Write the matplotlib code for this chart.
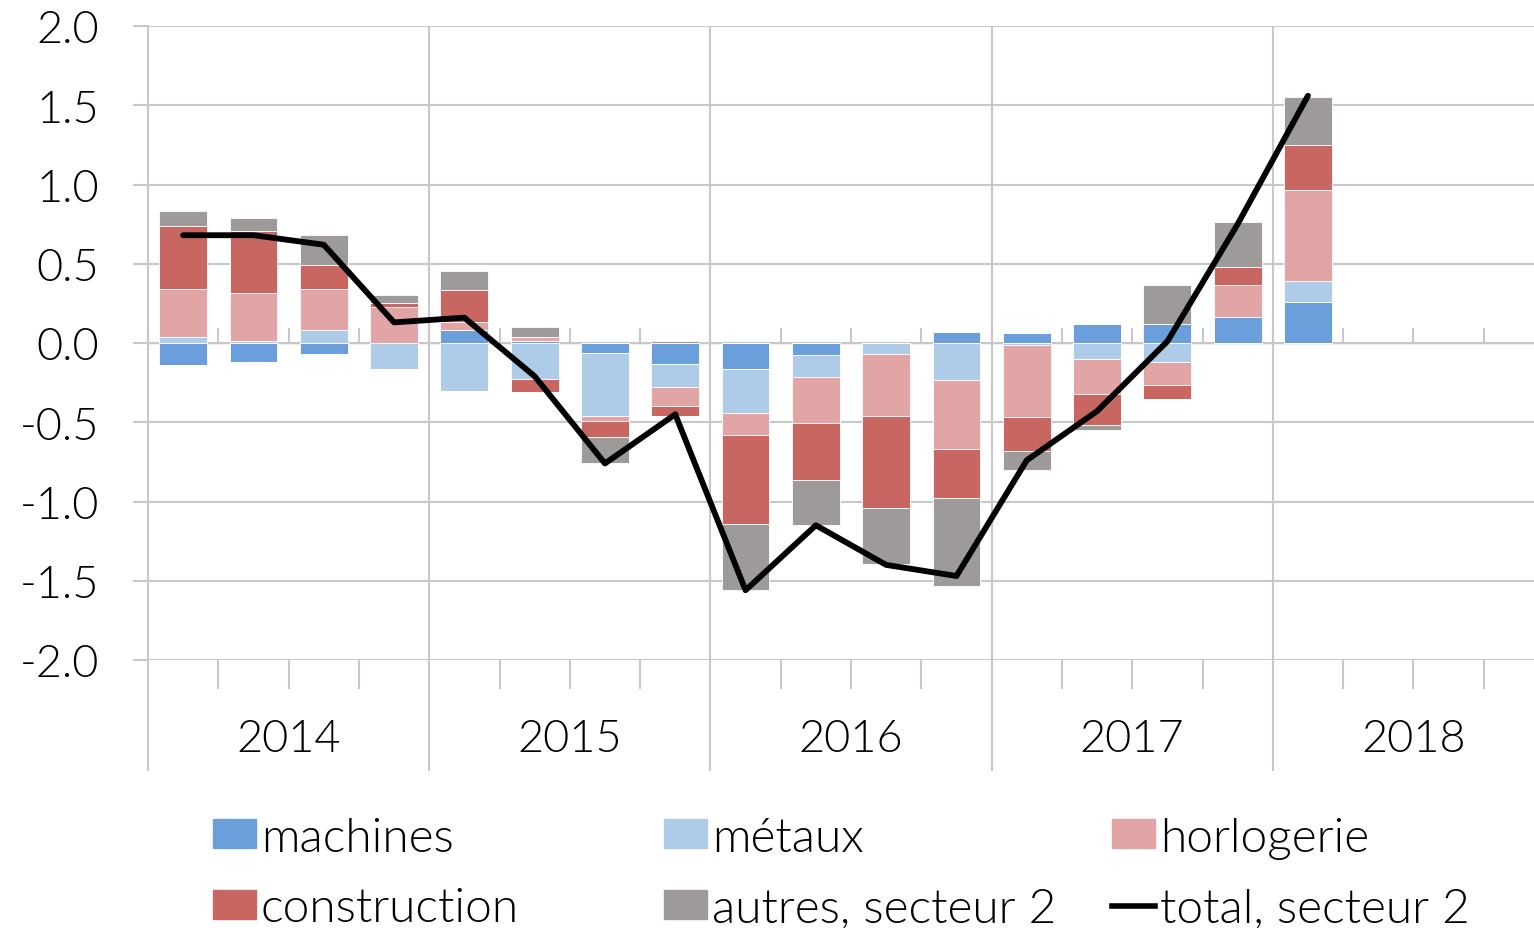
import matplotlib
matplotlib.use("Agg")
import matplotlib.pyplot as plt
import matplotlib.transforms as mtransforms
from matplotlib.patches import Patch
from matplotlib.lines import Line2D
from matplotlib.ticker import FixedLocator, FormatStrFormatter
import numpy as np

plt.rcParams['font.family'] = ['Lato', 'DejaVu Sans']
plt.rcParams['font.weight'] = 300
plt.rcParams['axes.unicode_minus'] = False

# contributions par branche, 2014 T1 - 2018 T1
years = ["2014", "2015", "2016", "2017", "2018"]
machines = [-0.14, -0.12, -0.07, 0.0, 0.08, 0.01, -0.065, -0.135, -0.166,
            -0.078, 0.0, 0.07, 0.06, 0.12, 0.12, 0.166, 0.257]
metaux = [0.04, 0.01, 0.08, -0.165, -0.30, -0.23, -0.395, -0.14, -0.277,
          -0.138, -0.07, -0.235, -0.01, -0.10, -0.118, 0.0, 0.132]
horlogerie = [0.30, 0.305, 0.26, 0.23, 0.05, 0.03, -0.03, -0.12, -0.137,
              -0.286, -0.39, -0.435, -0.46, -0.22, -0.145, 0.20, 0.575]
construction = [0.40, 0.39, 0.15, 0.02, 0.205, -0.08, -0.10, -0.065, -0.56,
                -0.36, -0.58, -0.31, -0.21, -0.20, -0.09, 0.115, 0.285]
autres = [0.09, 0.085, 0.19, 0.05, 0.12, 0.06, -0.165, 0.01, -0.42,
          -0.287, -0.355, -0.55, -0.12, -0.03, 0.245, 0.28, 0.305]
total = [0.68, 0.68, 0.62, 0.13, 0.16, -0.21, -0.76, -0.45, -1.56,
         -1.15, -1.40, -1.47, -0.74, -0.43, 0.01, 0.75, 1.56]

series = [
    ("machines", machines, "#6B9FDB"),
    ("métaux", metaux, "#AECBE8"),
    ("horlogerie", horlogerie, "#E0A5A4"),
    ("construction", construction, "#C86662"),
    ("autres, secteur 2", autres, "#9E9A99"),
]

grid_col = "#C8C8C8"
fs = 32.5
fs_leg = 34.5

fig = plt.figure(figsize=(15.34, 9.29), dpi=100)
ax = fig.add_axes([148 / 1534, 268 / 929, 1406 / 1534, 634 / 929])

x = np.arange(len(total)) + 0.5
pos_base = np.zeros(len(total))
neg_base = np.zeros(len(total))
for name, vals, col in series:
    v = np.array(vals)
    pos = np.where(v > 0, v, 0)
    neg = np.where(v < 0, v, 0)
    ax.bar(x, pos, 0.68, bottom=pos_base, color=col, edgecolor="white",
           linewidth=0.6, zorder=2)
    ax.bar(x, neg, 0.68, bottom=neg_base, color=col, edgecolor="white",
           linewidth=0.6, zorder=2)
    pos_base += pos
    neg_base += neg

ax.plot(x, total, color="black", lw=4.2, solid_capstyle="round", zorder=3)

ax.set_xlim(0, 20)
ax.set_ylim(-2, 2)

# axe vertical
ax.set_yticks(np.arange(-2, 2.01, 0.5))
ax.yaxis.set_major_formatter(FormatStrFormatter("%.1f"))
ax.tick_params(axis="y", length=11, width=1.5, color=grid_col, pad=24,
               labelsize=fs)
ax.grid(axis="y", color=grid_col, lw=1.5, zorder=0)

# axe horizontal : trimestres et années
ax.xaxis.set_major_locator(FixedLocator(np.arange(0, 21, 4)))
ax.xaxis.set_minor_locator(FixedLocator([i for i in range(21) if i % 4]))
ax.tick_params(axis="x", which="major", length=80, width=1.5, color=grid_col,
               labelbottom=False)
ax.tick_params(axis="x", which="minor", length=21, width=1.5, color=grid_col)
ax.grid(axis="x", which="major", color=grid_col, lw=1.5, zorder=0)
ax.set_axisbelow(True)

trans = mtransforms.blended_transform_factory(ax.transData, ax.transAxes)
for k, yr in enumerate(years):
    ax.text(4 * k + 2, -0.1246, yr, transform=trans, ha="center",
            va="center", fontsize=fs)

# graduations à la ligne zéro
sec = ax.secondary_xaxis(0.5)
sec.set_xticks(np.arange(0, 21, 1))
sec.tick_params(axis="x", length=11, width=1.5, color=grid_col,
                labelbottom=False, labeltop=False)
sec.spines["bottom"].set_visible(False)

for s in ["top", "right", "bottom"]:
    ax.spines[s].set_visible(False)
ax.spines["left"].set_color(grid_col)
ax.spines["left"].set_linewidth(1.5)

# légende en trois colonnes
handles = [Patch(color=c, label=n) for n, _, c in series]
handles.append(Line2D([], [], color="black", lw=4, label="total, secteur 2"))
columns = [(handles[0], handles[3]), (handles[1], handles[4]),
           (handles[2], handles[5])]
col_x = [213, 664, 1112]
for hx, cols in zip(col_x, columns):
    fig.legend(handles=list(cols), loc="center left",
               bbox_to_anchor=(hx / 1534, 55 / 929), frameon=False,
               fontsize=fs_leg, handlelength=0.9, handleheight=0.56,
               handletextpad=0.1, borderpad=0, borderaxespad=0,
               labelspacing=0.6)

fig.savefig("out.png", dpi=100)
